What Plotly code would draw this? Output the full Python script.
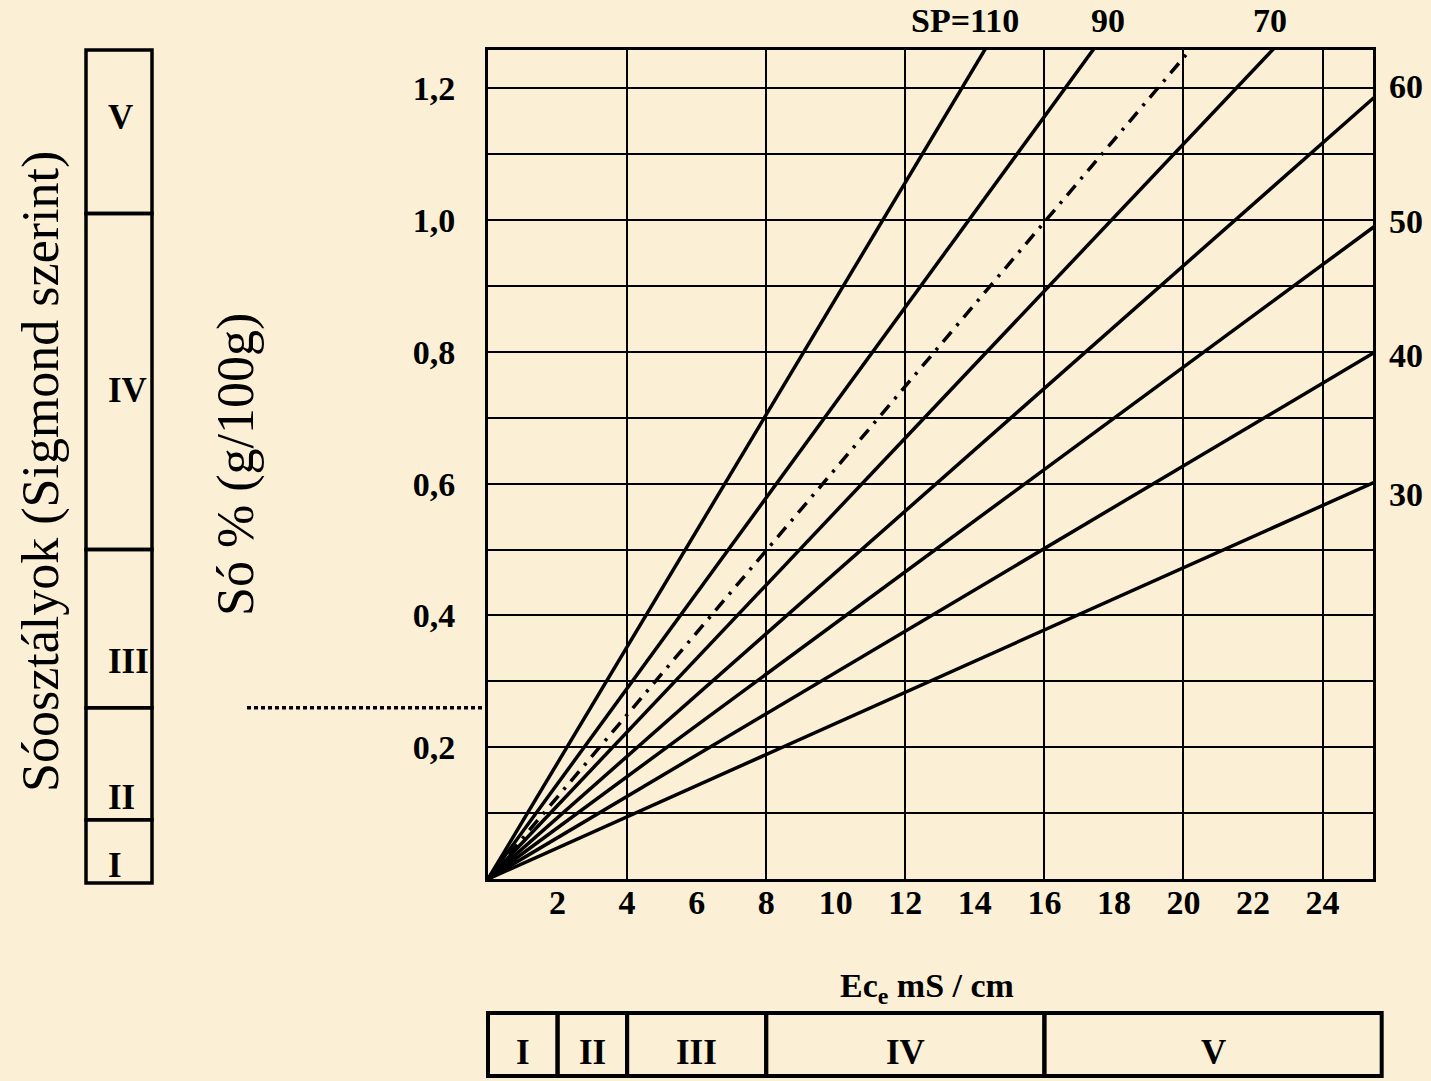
import plotly.graph_objects as go

# ---------------- data ----------------
SP_VALUES = [110, 90, 80, 70, 60, 50, 40, 30]          # saturation percentage of each line
EC_END = 26                                           # Ec (mS/cm) where each line's end value is read
SALT_AT_EC_END = [2.29, 1.88, 1.62, 1.45, 1.21, 1.01, 0.815, 0.614]  # salt % at Ec = 26
LINE_DASH = ["solid", "solid", "13px,8px,3px,8px", "solid", "solid", "solid", "solid", "solid"]

X_TICKS = [2, 4, 6, 8, 10, 12, 14, 16, 18, 20, 22, 24]
X_GRID = [4, 8, 12, 16, 20, 24]
Y_TICKS = [0.2, 0.4, 0.6, 0.8, 1.0, 1.2]
Y_TICK_TEXT = ["0,2", "0,4", "0,6", "0,8", "1,0", "1,2"]
Y_GRID = [0.1, 0.3, 0.5, 0.7, 0.9, 1.1]

X_RANGE = [0, 25.45]
Y_RANGE = [0, 1.258]

CLASS_NAMES = ["I", "II", "III", "IV", "V"]
SALT_CLASS_BOUNDS = [-0.006, 0.09, 0.26, 0.5, 1.01, 1.258]  # Sigmond classes on salt %
EC_CLASS_BOUNDS = [0, 2, 4, 8, 16, 25.7]                    # classes on Ec
CLASS_LINE_SALT = 0.26                                       # dotted marker line

TOP_LABELS = ["SP=110", "90", "70"]
TOP_LABEL_EC = [13.72, 17.83, 22.49]
RIGHT_LABELS = ["60", "50", "40", "30"]
RIGHT_LABEL_SALT = [1.203, 0.997, 0.794, 0.584]

# ---------------- styling ----------------
BG = "#FBF0D5"
SERIF = "Liberation Serif, Times New Roman, serif"
BOLD = dict(family=SERIF, size=34, color="black", weight="bold")

fig = go.Figure()

for sp, yend, dash in zip(SP_VALUES, SALT_AT_EC_END, LINE_DASH):
    fig.add_trace(go.Scatter(
        x=[0, EC_END], y=[0, yend], mode="lines", name=f"SP={sp}",
        line=dict(color="black", width=3.5, dash=dash),
        showlegend=False, hoverinfo="skip"))

fig.update_layout(
    width=1431, height=1081,
    margin=dict(l=488, r=58, t=50, b=202),
    paper_bgcolor=BG, plot_bgcolor=BG,
    showlegend=False,
    xaxis=dict(
        range=X_RANGE, tickvals=X_TICKS, ticktext=[str(v) for v in X_TICKS],
        showgrid=False, zeroline=False, ticks="",
        showline=True, linewidth=3, linecolor="black", mirror=True,
        tickfont=BOLD, ticklabelstandoff=-9,
        minor=dict(tickvals=X_GRID, showgrid=True, gridcolor="black", gridwidth=2.2, ticks=""),
    ),
    yaxis=dict(
        range=Y_RANGE, tickvals=Y_TICKS, ticktext=Y_TICK_TEXT,
        showgrid=True, gridcolor="black", gridwidth=2.2, zeroline=False, ticks="",
        showline=True, linewidth=3, linecolor="black", mirror=True,
        tickfont=BOLD, ticklabelstandoff=23,
        minor=dict(tickvals=Y_GRID, showgrid=True, gridcolor="black", gridwidth=2.2, ticks=""),
    ),
)

# plot-area geometry in pixels (for paper-relative placement)
PX_L, PX_R, PX_T, PX_B = 488, 1373, 50, 879
def px_x(p):
    return (p - PX_L) / (PX_R - PX_L)
def px_y(p):
    return (PX_B - p) / (PX_B - PX_T)
def data_to_paper_x(v):
    return (v - X_RANGE[0]) / (X_RANGE[1] - X_RANGE[0])
def data_to_paper_y(v):
    return (v - Y_RANGE[0]) / (Y_RANGE[1] - Y_RANGE[0])

shapes = []
annos = []

# left class bar (salt %)
for i in range(len(CLASS_NAMES)):
    shapes.append(dict(type="rect", xref="paper", yref="paper",
                       x0=px_x(86), x1=px_x(152),
                       y0=data_to_paper_y(SALT_CLASS_BOUNDS[i]),
                       y1=data_to_paper_y(SALT_CLASS_BOUNDS[i + 1]),
                       line=dict(color="black", width=3.5), fillcolor="rgba(0,0,0,0)"))
left_label_px = [865, 797, 661, 390, 117]
for name, py in zip(CLASS_NAMES, left_label_px):
    annos.append(dict(text=f"<b>{name}</b>", xref="paper", yref="paper",
                      x=px_x(106), y=px_y(py), xanchor="left", yanchor="middle",
                      showarrow=False, font=dict(family=SERIF, size=35, color="black")))

# bottom class bar (Ec)
for i in range(len(CLASS_NAMES)):
    shapes.append(dict(type="rect", xref="paper", yref="paper",
                       x0=data_to_paper_x(EC_CLASS_BOUNDS[i]),
                       x1=data_to_paper_x(EC_CLASS_BOUNDS[i + 1]),
                       y0=px_y(1076), y1=px_y(1013),
                       line=dict(color="black", width=4), fillcolor="rgba(0,0,0,0)"))
    annos.append(dict(text=f"<b>{CLASS_NAMES[i]}</b>", xref="paper", yref="paper",
                      x=data_to_paper_x((EC_CLASS_BOUNDS[i] + EC_CLASS_BOUNDS[i + 1]) / 2),
                      y=px_y(1052), xanchor="center", yanchor="middle", showarrow=False,
                      font=dict(family=SERIF, size=35, color="black")))

# dotted line from the class bar to the axis
shapes.append(dict(type="line", xref="paper", yref="paper",
                   x0=px_x(247), x1=0,
                   y0=data_to_paper_y(CLASS_LINE_SALT), y1=data_to_paper_y(CLASS_LINE_SALT),
                   line=dict(color="black", width=3.5, dash="4px,3px")))

# line labels
for t, xv in zip(TOP_LABELS, TOP_LABEL_EC):
    annos.append(dict(text=f"<b>{t}</b>", xref="x", yref="paper", x=xv, y=px_y(20),
                      xanchor="center", yanchor="middle", showarrow=False, font=BOLD))
for t, yv in zip(RIGHT_LABELS, RIGHT_LABEL_SALT):
    annos.append(dict(text=f"<b>{t}</b>", xref="paper", yref="y", x=px_x(1387), y=yv,
                      xanchor="left", yanchor="middle", showarrow=False, font=BOLD))

# titles
annos.append(dict(text="<b>Ec<sub>e</sub> mS / cm</b>", xref="paper", yref="paper",
                  x=px_x(927), y=px_y(988), xanchor="center", yanchor="middle",
                  showarrow=False, font=BOLD))
annos.append(dict(text="Só % (g/100g)", xref="paper", yref="paper",
                  x=px_x(236), y=px_y(465), xanchor="center", yanchor="middle",
                  textangle=-90, showarrow=False,
                  font=dict(family=SERIF, size=52, color="black")))
annos.append(dict(text="Sóosztályok (Sigmond szerint)", xref="paper", yref="paper",
                  x=px_x(41), y=px_y(472), xanchor="center", yanchor="middle",
                  textangle=-90, showarrow=False,
                  font=dict(family=SERIF, size=52, color="black")))

fig.update_layout(shapes=shapes, annotations=annos)
fig.write_html("out.html")
